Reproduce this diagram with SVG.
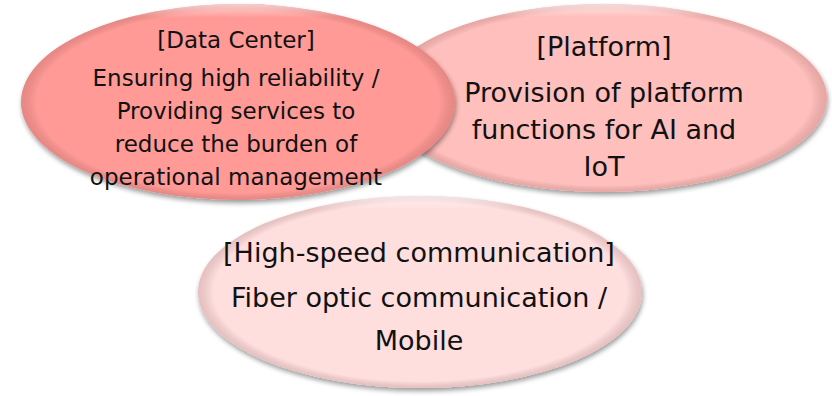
<svg xmlns="http://www.w3.org/2000/svg" width="832" height="396" viewBox="0 0 832 396">
<defs>
<filter id="sh" x="-10%" y="-10%" width="120%" height="125%">
<feGaussianBlur in="SourceAlpha" stdDeviation="2.5"/>
<feOffset dx="1" dy="3" result="b"/>
<feComponentTransfer><feFuncA type="linear" slope="0.4"/></feComponentTransfer>
<feMerge><feMergeNode/><feMergeNode in="SourceGraphic"/></feMerge>
</filter>
<radialGradient id="edge" cx="50%" cy="50%" r="50%">
<stop offset="0.93" stop-color="#000" stop-opacity="0"/>
<stop offset="1" stop-color="#7a3030" stop-opacity="0.18"/>
</radialGradient>
<linearGradient id="hl" x1="0" y1="0" x2="0" y2="1">
<stop offset="0" stop-color="#fff" stop-opacity="0.6"/>
<stop offset="0.07" stop-color="#fff" stop-opacity="0"/>
<stop offset="1" stop-color="#fff" stop-opacity="0"/>
</linearGradient>
</defs>
<style>
.t{font-family:"DejaVu Sans","Verdana",sans-serif;fill:#111;text-anchor:middle}
.dc{font-size:23px}
.pf{font-size:27px}
.hs{font-size:27px}
.ov{fill:url(#edge)}
.hl{fill:url(#hl)}
</style>
<rect width="832" height="396" fill="#fff"/>
<g id="platform">
<g filter="url(#sh)"><ellipse cx="604" cy="98" rx="223" ry="94" fill="#FFBFBC"/></g>
<ellipse class="ov" cx="604" cy="98" rx="223" ry="94"/>
<ellipse class="hl" cx="604" cy="98" rx="223" ry="94"/>
<text class="t pf" x="604" y="56">[Platform]</text>
<text class="t pf" x="604" y="102">Provision of platform</text>
<text class="t pf" x="604" y="139">functions for AI and</text>
<text class="t pf" x="604" y="176">IoT</text>
</g>
<g id="datacenter">
<g filter="url(#sh)"><ellipse cx="238" cy="102" rx="217" ry="98" fill="#FF9A96"/></g>
<ellipse class="ov" cx="238" cy="102" rx="217" ry="98"/>
<ellipse class="hl" cx="238" cy="102" rx="217" ry="98"/>
<text class="t dc" x="236" y="48">[Data Center]</text>
<text class="t dc" x="236" y="86">Ensuring high reliability /</text>
<text class="t dc" x="236" y="119">Providing services to</text>
<text class="t dc" x="236" y="152">reduce the burden of</text>
<text class="t dc" x="236" y="185">operational management</text>
</g>
<g id="highspeed">
<g filter="url(#sh)"><ellipse cx="420" cy="292" rx="222" ry="96" fill="#FFDEDE"/></g>
<ellipse class="ov" cx="420" cy="292" rx="222" ry="96"/>
<ellipse class="hl" cx="420" cy="292" rx="222" ry="96"/>
<text class="t hs" x="419" y="262">[High-speed communication]</text>
<text class="t hs" x="419" y="307">Fiber optic communication /</text>
<text class="t hs" x="419" y="350">Mobile</text>
</g>
<g id="connectors"/>
</svg>
